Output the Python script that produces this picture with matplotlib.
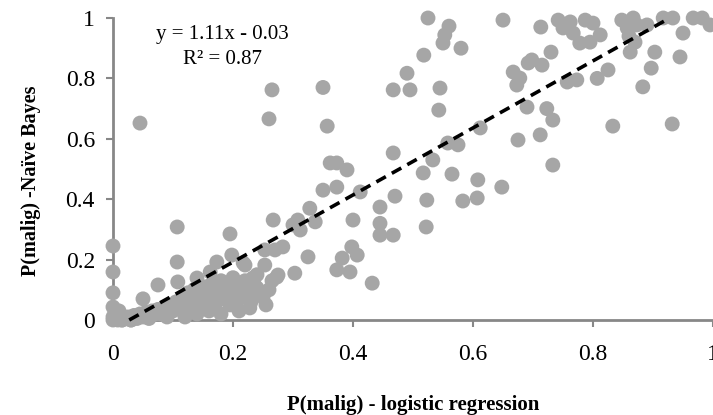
import numpy as np
import matplotlib
matplotlib.use("Agg")
import matplotlib.pyplot as plt

plt.rcParams['font.family'] = ['Liberation Serif', 'DejaVu Serif']

# P(malig) from logistic regression (x) and Naive Bayes (y)
x_logistic = [
    0.045, 0.265, 0.26, 0.35, 0.357, 0.467, 0.49, 0.495, 0.467, 0.362, 0.373, 0.39,
    0.525, 0.56, 0.553, 0.55, 0.58, 0.518, 0.545, 0.543, 0.65, 0.713,
    0.742, 0.762, 0.75, 0.767, 0.778, 0.787, 0.80, 0.812, 0.795, 0.73,
    0.667, 0.678, 0.692, 0.698, 0.715, 0.673, 0.757, 0.773, 0.807, 0.825,
    0.848, 0.867, 0.873, 0.857, 0.89, 0.86, 0.87, 0.862, 0.903, 0.917, 0.933,
    0.95, 0.945, 0.967, 0.982, 0.995, 0.897, 0.883, 0.932, 0.833,
    0.69, 0.723, 0.733, 0.712, 0.675, 0.733, 0.612, 0.575, 0.558, 0.533,
    0.517, 0.565, 0.608, 0.607, 0.583, 0.648, 0.523, 0.47, 0.445, 0.445,
    0.467, 0.522, 0.445, 0.35, 0.373, 0.412, 0.40, 0.398, 0.407, 0.382,
    0.373, 0.395, 0.432, 0.267, 0.308, 0.328, 0.337, 0.312, 0.30,
    0.283, 0.27, 0.253, 0.325, 0.303, 0.275, 0.253, 0.273, 0.233, 0.24,
    0.25, 0.228, 0.217, 0.22,
    0.0, 0.0, 0.0, 0.0, 0.0,
    0.107, 0.195, 0.107, 0.075, 0.05, 0.108, 0.14, 0.173, 0.198, 0.217, 0.162,
    0.0, 0.003, 0.008, 0.012, 0.005, 0.015, 0.02, 0.025, 0.03, 0.035, 0.04,
    0.045, 0.05, 0.055, 0.06, 0.065, 0.07, 0.075, 0.08, 0.085, 0.09, 0.095,
    0.10, 0.105, 0.11, 0.115, 0.12, 0.125, 0.13, 0.135, 0.14, 0.145, 0.15,
    0.155, 0.16, 0.165, 0.17, 0.175, 0.18, 0.185, 0.19, 0.195, 0.20, 0.20,
    0.205, 0.21, 0.215, 0.22, 0.225, 0.23, 0.235, 0.24, 0.245, 0.26, 0.265,
    0.255, 0.21, 0.18, 0.16, 0.14, 0.12, 0.09, 0.06, 0.03, 0.015, 0.01,
]
y_naive_bayes = [
    0.652, 0.762, 0.666, 0.77, 0.642, 0.762, 0.817, 0.762, 0.553, 0.52, 0.52, 0.497,
    1.0, 0.973, 0.944, 0.917, 0.90, 0.877, 0.768, 0.695, 0.993, 0.97,
    0.993, 0.987, 0.967, 0.95, 0.917, 0.993, 0.983, 0.944, 0.92, 0.887,
    0.821, 0.801, 0.851, 0.861, 0.844, 0.778, 0.788, 0.795, 0.80, 0.828,
    0.993, 1.0, 0.977, 0.967, 0.977, 0.94, 0.92, 0.887, 0.887, 1.0, 1.0,
    0.95, 0.871, 1.0, 1.0, 0.977, 0.834, 0.772, 0.649, 0.642,
    0.705, 0.70, 0.662, 0.613, 0.596, 0.513, 0.636, 0.58, 0.586, 0.53,
    0.487, 0.483, 0.464, 0.404, 0.394, 0.44, 0.397, 0.41, 0.374, 0.32,
    0.281, 0.308, 0.281, 0.43, 0.44, 0.424, 0.331, 0.242, 0.215, 0.205,
    0.166, 0.159, 0.122, 0.331, 0.331, 0.37, 0.325, 0.298, 0.315,
    0.242, 0.232, 0.232, 0.209, 0.155, 0.149, 0.182, 0.142, 0.139, 0.106,
    0.076, 0.04, 0.106, 0.182,
    0.245, 0.159, 0.09, 0.043, 0.01,
    0.308, 0.285, 0.192, 0.116, 0.07, 0.126, 0.139, 0.192, 0.215, 0.189, 0.159,
    0.0, 0.005, 0.0, 0.01, 0.02, 0.0, 0.005, 0.01, 0.0, 0.015, 0.005,
    0.02, 0.01, 0.025, 0.015, 0.03, 0.02, 0.035, 0.02, 0.04, 0.025, 0.05,
    0.03, 0.06, 0.04, 0.07, 0.03, 0.09, 0.05, 0.10, 0.06, 0.08, 0.04,
    0.11, 0.07, 0.12, 0.05, 0.09, 0.13, 0.07, 0.11, 0.05, 0.09, 0.14,
    0.12, 0.07, 0.10, 0.13, 0.09, 0.06, 0.12, 0.15, 0.09, 0.10, 0.13,
    0.05, 0.03, 0.02, 0.03, 0.02, 0.01, 0.01, 0.005, 0.0, 0.0, 0.03,
]

# Linear trendline as reported on the chart
slope, intercept = 1.11, -0.03
r_squared = 0.87

x_ticks = [0, 0.2, 0.4, 0.6, 0.8, 1]
y_ticks = [0, 0.2, 0.4, 0.6, 0.8, 1]
tick_labels = ['0', '0.2', '0.4', '0.6', '0.8', '1']

fig = plt.figure(figsize=(7.13, 4.15), dpi=100)
ax = fig.add_axes([113 / 713, 95 / 415, 600 / 713, 302 / 415])

ax.scatter(x_logistic, y_naive_bayes, s=115, color='#a6a6a6', edgecolors='none',
           clip_on=False, zorder=3)

x_line = np.array([(0 - intercept) / slope, (1 - intercept) / slope])
ax.plot(x_line, slope * x_line + intercept, color='black', lw=2.6,
        dashes=(3, 1.9), zorder=4, clip_on=False)

ax.set_xlim(0, 1)
ax.set_ylim(0, 1)
ax.set_xticks(x_ticks)
ax.set_xticklabels(tick_labels)
ax.set_yticks(y_ticks)
ax.set_yticklabels(tick_labels)

for s in ['top', 'right']:
    ax.spines[s].set_visible(False)
for s in ['left', 'bottom']:
    ax.spines[s].set_color('#878787')
    ax.spines[s].set_linewidth(2)
ax.tick_params(axis='both', direction='out', color='#878787', width=1.5,
               labelsize=17, length=5)
ax.tick_params(axis='x', pad=12)
ax.tick_params(axis='y', pad=8)

ax.set_xlabel('P(malig) - logistic regression', fontsize=15, fontweight='bold',
              labelpad=22)
ax.set_ylabel('P(malig) -Naïve Bayes', fontsize=14.5, fontweight='bold', labelpad=18)
ax.yaxis.label.set_y(0.46)

ax.text(0.183, 0.944, f'y = {slope:.2f}x - {abs(intercept):.2f}', ha='center',
        va='center', fontsize=15, zorder=5)
ax.text(0.183, 0.861, f'R² = {r_squared:.2f}', ha='center', va='center',
        fontsize=15, zorder=5)

fig.savefig('out.png', dpi=100)
